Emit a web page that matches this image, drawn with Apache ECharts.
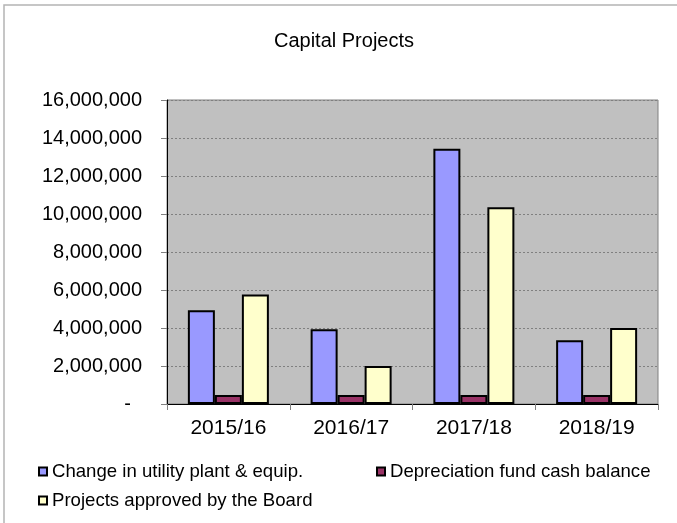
<!DOCTYPE html>
<html>
<head>
<meta charset="utf-8">
<script src="https://cdn.jsdelivr.net/npm/echarts@6/dist/echarts.min.js"></script>
<style>
  html, body { margin: 0; padding: 0; background: #fff; }
  #chart { width: 677px; height: 523px; }
</style>
</head>
<body>
<div id="chart"></div>
<script>
// values
var years = ['2015/16', '2016/17', '2017/18', '2018/19'];
var plantChange = [4940000, 3930000, 13440000, 3350000];
var depreciationCash = [475000, 475000, 475000, 475000];
var boardApproved = [5760000, 2000000, 10350000, 4000000];
var seriesNames = ['Change in utility plant & equip.', 'Depreciation fund cash balance', 'Projects approved by the Board'];

var chart = echarts.init(document.getElementById('chart'));
var font = 'Liberation Sans, Arial, sans-serif';

function fmt(v) {
    if (v === 0) return '-  ';
    return String(v).replace(/\B(?=(\d{3})+(?!\d))/g, ',');
}

var legendText = { fontFamily: font, fontSize: 18.6, color: '#000', lineHeight: 19 };

var option = {
    animation: false,
    backgroundColor: '#fff',
    title: {
        text: 'Capital Projects',
        left: 344,
        top: 31,
        textAlign: 'center',
        padding: 0,
        textStyle: { fontFamily: font, fontSize: 20, fontWeight: 'normal', color: '#000' }
    },
    graphic: [{
        type: 'rect',
        z: -1,
        shape: { x: 4, y: 5, width: 720, height: 600 },
        style: { fill: null, stroke: '#b4b4b4', lineWidth: 1.5 }
    }],
    legend: [
        { data: [seriesNames[0]], left: 38, top: 462, padding: 0, icon: 'rect', itemWidth: 8, itemHeight: 8, textStyle: legendText },
        { data: [seriesNames[1]], left: 376, top: 462, padding: 0, icon: 'rect', itemWidth: 8, itemHeight: 8, textStyle: legendText },
        { data: [seriesNames[2]], left: 38, top: 491, padding: 0, icon: 'rect', itemWidth: 8, itemHeight: 8, textStyle: legendText }
    ],
    grid: {
        left: 167,
        right: 19,
        top: 100,
        bottom: 119,
        show: true,
        backgroundColor: '#c0c0c0',
        borderColor: '#808080',
        borderWidth: 1
    },
    xAxis: {
        type: 'category',
        data: years,
        axisLine: { lineStyle: { color: '#000', width: 1 } },
        axisTick: { show: true, length: 6, lineStyle: { color: '#808080' } },
        axisLabel: { fontFamily: font, fontSize: 21, color: '#000', margin: 14 }
    },
    yAxis: {
        type: 'value',
        min: 0,
        max: 16000000,
        interval: 2000000,
        axisLine: { show: true, lineStyle: { color: '#000', width: 1 } },
        axisTick: { show: true, length: 6, lineStyle: { color: '#808080' } },
        splitLine: { show: true, lineStyle: { color: '#808080', type: [2, 2], width: 1 } },
        axisLabel: { fontFamily: font, fontSize: 20, color: '#000', margin: 25, formatter: fmt }
    },
    series: [
        {
            name: seriesNames[0],
            type: 'bar',
            data: plantChange,
            barWidth: 27,
            barGap: '0%',
            itemStyle: { color: '#9999ff', borderColor: '#000', borderWidth: 2 }
        },
        {
            name: seriesNames[1],
            type: 'bar',
            data: depreciationCash,
            barWidth: 27,
            barGap: '0%',
            itemStyle: { color: '#993366', borderColor: '#000', borderWidth: 2 }
        },
        {
            name: seriesNames[2],
            type: 'bar',
            data: boardApproved,
            barWidth: 27,
            barGap: '0%',
            itemStyle: { color: '#ffffcc', borderColor: '#000', borderWidth: 2 }
        }
    ]
};
chart.setOption(option, true);
</script>
</body>
</html>
